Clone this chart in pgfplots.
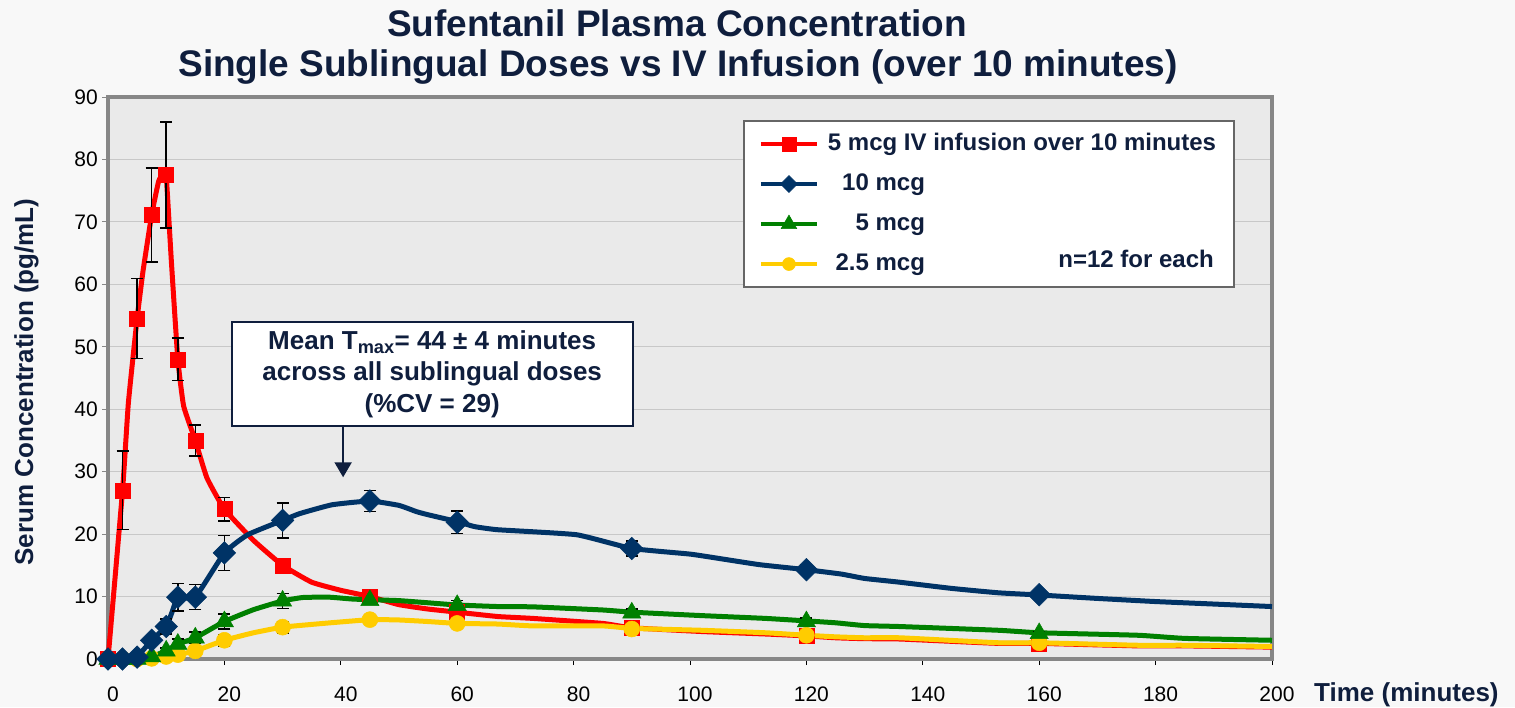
\documentclass[border=0pt]{standalone}
\usepackage{fontspec}
\setmainfont{Liberation Sans}
\usepackage{pgfplots}
\pgfplotsset{compat=1.18}
\usetikzlibrary{arrows.meta}
\definecolor{navytext}{HTML}{0F1E3D}
\definecolor{sred}{HTML}{FF0000}
\definecolor{sblue}{HTML}{003366}
\definecolor{sgreen}{HTML}{008000}
\definecolor{syellow}{HTML}{FFCC00}
\definecolor{pagebg}{HTML}{F8F8F8}
\definecolor{plotbg}{HTML}{EAEAEA}
\definecolor{framegray}{HTML}{878787}
\definecolor{gridgray}{HTML}{C8C8C8}

% ---- curves (smooth lines) ----
\pgfplotstableread{
t v
0 0
2.5 27
3.5 41
5 54.5
6 62
7.5 71.1
8.7 76.5
9.6 77.9
10 77.5
10.9 63.5
12 48
13 40.5
15 35
17 29
20 24
25 19
30 15
35 12.3
40 11
45 10
50 8.7
55 8.0
60 7.5
67 6.8
73 6.5
85 5.7
90 5.0
102 4.4
113 4.0
120 3.7
125 3.4
130 3.25
136 3.2
153 2.5
160 2.5
177 2.1
185 2.1
200 1.9
}\redline
\pgfplotstableread{
t v
0 0
2.5 0
5 0.4
7.5 3
10 5.2
11 7.5
12 9.9
15 9.9
20 17
24 19.9
30 22.2
33 23.3
38.5 24.7
45 25.3
50 24.6
53 23.6
55 23.1
60 22
63 21.2
67 20.7
80.5 19.9
90 17.7
100 16.8
105 16.1
112 15.1
120 14.3
126 13.6
130 12.9
136 12.3
145 11.3
153 10.6
160 10.25
170 9.7
180 9.2
190 8.8
200 8.4
}\blueline
\pgfplotstableread{
t v
0 0
5 0
7.5 0.4
10 1.3
12 2.4
15 3.4
20 6.0
25 7.9
30 9.3
33.5 9.85
38 9.9
42 9.6
45 9.5
50 9.35
55 9.0
60 8.65
67 8.4
73 8.35
85 7.85
90 7.5
102 6.95
113 6.5
120 6.1
125 5.8
130 5.35
136 5.2
153 4.6
160 4.2
177 3.8
185 3.3
200 3.0
}\greenline
\pgfplotstableread{
t v
0 0
5 0
7.5 0.1
10 0.4
12 0.7
15 1.3
20 3.0
25 4.2
30 5.1
37 5.7
45 6.3
50 6.25
55 6.0
60 5.7
67 5.6
73 5.3
85 5.3
90 4.9
102 4.6
113 4.2
120 3.8
125 3.55
130 3.4
136 3.4
153 2.6
160 2.6
177 2.2
185 2.2
200 2.0
}\yellowline

% ---- measured points with error bars ----
\pgfplotstableread{
t v e
0 0 0
2.5 27 6.3
5 54.5 6.4
7.5 71.1 7.5
10 77.5 8.5
12 48 3.4
15 35 2.5
20 24 1.9
30 15 0.8
45 10 0.8
60 7.6 0.5
90 5 0.4
120 3.7 0.3
160 2.5 0.2
}\redpts
\pgfplotstableread{
t v e
0 0 0
2.5 0 0
5 0.3 0
7.5 3 0.5
10 5.2 1.2
12 9.9 2.2
15 9.9 2.0
20 17 2.8
30 22.2 2.8
45 25.3 1.7
60 21.9 1.8
90 17.7 1.2
120 14.3 0.8
160 10.3 0.3
}\bluepts
\pgfplotstableread{
t v e
0 0 0
2.5 0 0
5 0 0
7.5 0.4 0
10 1.3 0.5
12 2.4 0.8
15 3.4 0.9
20 6.0 1.2
30 9.3 1.2
45 9.4 0.6
60 8.6 0.8
90 7.4 0.6
120 6.0 0.6
160 4.1 0.3
}\greenpts
\pgfplotstableread{
t v e
0 0 0
2.5 0 0
5 0 0
7.5 0.1 0
10 0.4 0
12 0.7 0.3
15 1.3 0.6
20 3.0 0.9
30 5.1 0.9
45 6.3 0.5
60 5.7 0.5
90 4.8 0.3
120 3.8 0.3
160 2.6 0.2
}\yellowpts

\begin{document}
\begin{tikzpicture}
\fill[pagebg, use as bounding box] (0pt,0pt) rectangle (1515pt,707pt);
\begin{axis}[
  at={(108pt,48pt)}, anchor=south west,
  scale only axis, width=1164pt, height=562pt,
  xmin=0, xmax=200, ymin=0, ymax=90,
  xtick={0,20,...,200}, ytick={0,10,...,90},
  clip=false,
  axis background/.style={fill=plotbg},
  axis line style={draw=framegray, line width=3.5pt},
  ymajorgrids, major grid style={draw=gridgray, line width=1.2pt},
  tick align=outside, xtick pos=bottom, ytick pos=left,
  major tick length=6pt,
  xtick style={black, line width=0.8pt},
  ytick style={framegray, line width=0.8pt},
  /pgf/number format/assume math mode=true,
  ticklabel style={font=\fontsize{21}{24}\selectfont, text=black},
  xticklabel style={anchor=north, inner sep=0pt, yshift=-22pt, xshift=5pt},
  yticklabel style={anchor=east, inner sep=0pt, xshift=-4pt},
  legend image code/.code={\draw[mark repeat=2,mark phase=2,#1] plot coordinates {(0pt,0pt) (28pt,0pt) (56pt,0pt)};},
  legend cell align=left,
  legend style={at={(0.5455,0.959)}, anchor=north west, draw=gray!80!black, line width=2pt, fill=white,
    font=\fontsize{24}{28}\selectfont\bfseries, text=navytext,
    inner xsep=15pt, inner ysep=8pt, row sep=10pt, column sep=6pt,
    nodes={inner xsep=3pt, inner ysep=4pt, text height=17pt, text depth=5pt}},
]
\addlegendimage{sred, line width=4pt, mark=square*, mark size=7pt, mark options={solid, line width=0.5pt}}
\addlegendentry{5 mcg IV infusion over 10 minutes}
\addlegendimage{sblue, line width=4pt, mark=square*, mark size=6pt, mark options={solid, rotate=45, line width=0.5pt}}
\addlegendentry{\makebox[97pt][r]{10 mcg}}
\addlegendimage{sgreen, line width=4pt, mark=triangle*, mark size=9pt, mark options={solid, line width=0.5pt}}
\addlegendentry{\makebox[97pt][r]{5 mcg}}
\addlegendimage{syellow, line width=4pt, mark=*, mark size=6.5pt, mark options={solid, line width=0.5pt}}
\addlegendentry{\makebox[97pt][r]{2.5 mcg}}

% red
\addplot[forget plot, sred, line width=5pt, smooth, tension=0.25, no marks] table[x=t,y=v]{\redline};
\addplot[forget plot, only marks, mark=square*, mark size=7.5pt, color=sred, mark options={line width=0.5pt},
  error bars/.cd, y dir=both, y explicit,
  error bar style={black, line width=1.5pt},
  error mark options={rotate=90, black, mark size=6pt, line width=1.5pt}]
  table[x=t,y=v,y error=e]{\redpts};
% yellow
\addplot[forget plot, syellow, line width=5pt, smooth, tension=0.25, no marks] table[x=t,y=v]{\yellowline};
\addplot[forget plot, only marks, mark=*, mark size=8pt, color=syellow, mark options={line width=0.5pt},
  error bars/.cd, y dir=both, y explicit,
  error bar style={black, line width=1.5pt},
  error mark options={rotate=90, black, mark size=6pt, line width=1.5pt}]
  table[x=t,y=v,y error=e]{\yellowpts};
% green
\addplot[forget plot, sgreen, line width=5pt, smooth, tension=0.25, no marks] table[x=t,y=v]{\greenline};
\addplot[forget plot, only marks, mark=triangle*, mark size=10.5pt, color=sgreen, mark options={line width=0.5pt},
  error bars/.cd, y dir=both, y explicit,
  error bar style={black, line width=1.5pt},
  error mark options={rotate=90, black, mark size=6pt, line width=1.5pt}]
  table[x=t,y=v,y error=e]{\greenpts};
% blue
\addplot[forget plot, sblue, line width=5pt, smooth, tension=0.25, no marks] table[x=t,y=v]{\blueline};
\addplot[forget plot, only marks, mark=square*, mark size=8pt, color=sblue, mark options={rotate=45, line width=0.5pt},
  error bars/.cd, y dir=both, y explicit,
  error bar style={black, line width=1.5pt},
  error mark options={rotate=90, black, mark size=6pt, line width=1.5pt}]
  table[x=t,y=v,y error=e]{\bluepts};

% annotation
\node[draw=navytext, line width=2pt, fill=white, minimum width=401pt, minimum height=104pt,
  align=center, font=\fontsize{26}{31.6}\selectfont\bfseries, text=navytext, inner sep=0pt]
  at (axis cs:55.7,45.6) {Mean T\textsubscript{max}= 44 ± 4 minutes\\across all sublingual doses\\(\%CV = 29)};
\draw[navytext, line width=2pt, -{Triangle[length=15pt,width=17pt]}] (axis cs:40.4,37.3) -- (axis cs:40.4,29.1);
\end{axis}
% text beside the legend, titles and axis labels
\node[anchor=base east, inner sep=0pt, font=\fontsize{24}{28}\selectfont\bfseries, text=navytext]
  at (1214pt,439pt) {n=12 for each};
\node[anchor=base, inner sep=0pt, font=\fontsize{37}{44}\selectfont\bfseries, text=navytext] at (677pt,670pt) {Sufentanil Plasma Concentration};
\node[anchor=base, inner sep=0pt, font=\fontsize{37}{44}\selectfont\bfseries, text=navytext] at (678pt,630pt) {Single Sublingual Doses vs IV Infusion (over 10 minutes)};
\node[rotate=90, anchor=base, inner sep=0pt, font=\fontsize{26}{30}\selectfont\bfseries, text=navytext] at (33pt,325pt) {Serum Concentration (pg/mL)};
\node[anchor=base west, inner sep=0pt, font=\fontsize{26}{30}\selectfont\bfseries, text=navytext] at (1314pt,6pt) {Time (minutes)};
\end{tikzpicture}
\end{document}
